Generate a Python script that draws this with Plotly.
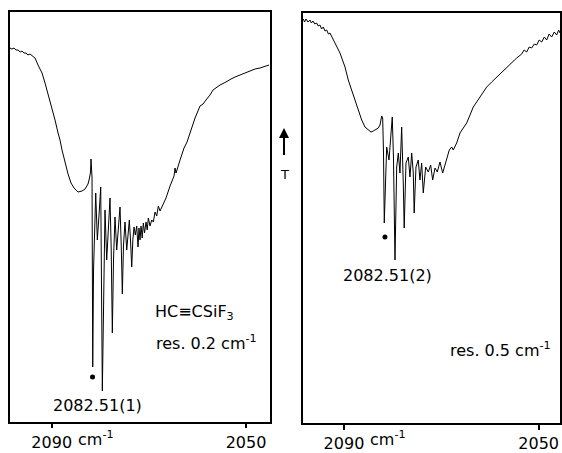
import plotly.graph_objects as go

# ---------------- data ----------------
# Left panel: HC≡CSiF3, resolution 0.2 cm-1  (wavenumber in cm-1, transmittance in arbitrary units)
left_wn = [2098.59, 2098.2, 2097.76, 2097.35, 2096.94, 2096.5, 2096.12, 2095.7, 2095.29, 2094.9,
           2094.47, 2093.85, 2093.44, 2092.82, 2092.00, 2091.38, 2090.97, 2090.35, 2089.94, 2089.32,
           2088.70, 2088.29, 2087.88, 2087.26, 2086.64, 2086.03, 2085.41, 2084.58, 2083.76, 2083.14,
           2082.53, 2082.22, 2082.01, 2081.91, 2081.70, 2081.56, 2081.39, 2080.94, 2080.61, 2080.26,
           2079.91, 2079.58, 2079.33, 2079.03, 2078.68, 2078.35, 2078.00, 2077.75, 2077.52, 2077.28,
           2076.97, 2076.62, 2076.29, 2075.94, 2075.69, 2075.46, 2075.22, 2074.91, 2074.56, 2074.29,
           2074.02, 2073.78, 2073.53, 2073.30, 2073.05, 2072.79, 2072.50, 2072.23, 2072.03, 2071.82,
           2071.61, 2071.37, 2071.14, 2070.89, 2070.58, 2070.34, 2070.11, 2069.76, 2069.41, 2069.08,
           2068.73, 2068.38, 2068.05, 2067.70, 2067.08, 2066.47, 2065.64, 2065.02, 2064.82, 2064.61,
           2064.41, 2063.58, 2062.76, 2062.14, 2061.52, 2060.49, 2059.47, 2058.85, 2058.23, 2057.41,
           2056.79, 2055.96, 2055.35, 2054.52, 2053.91, 2053.08, 2052.26, 2051.23, 2050.20, 2049.17,
           2048.14, 2047.11, 2046.08, 2045.26]
left_T = [374, 373, 374, 372, 372, 370, 371, 369, 369, 367,
          368, 366, 364, 357, 349, 339, 332, 319, 312, 302,
          289, 282, 272, 259, 248, 239, 234, 230, 231, 233,
          238, 244, 250, 263, 244, 55, 152, 229, 182, 207,
          235, 31, 142, 212, 162, 197, 224, 172, 89, 162,
          205, 172, 192, 215, 177, 128, 177, 200, 172, 192,
          202, 182, 155, 182, 195, 187, 196, 175, 194, 182,
          196, 184, 199, 189, 200, 192, 204, 196, 202, 200,
          210, 206, 216, 211, 218, 224, 236, 244, 246, 254,
          249, 262, 274, 280, 289, 304, 316, 318, 322, 327,
          332, 335, 337, 339, 341, 343, 345, 347, 349, 351,
          353, 354, 356, 357]

# Right panel: resolution 0.5 cm-1
right_wn = [2098.36, 2098.1, 2097.81, 2097.4, 2096.99, 2096.7, 2096.37, 2096.0, 2095.61, 2095.3,
            2094.93, 2094.6, 2094.25, 2093.9, 2093.55, 2093.2, 2092.88, 2092.26, 2091.85, 2091.34,
            2090.82, 2090.31, 2089.79, 2089.12, 2088.42, 2087.74, 2087.06, 2086.36, 2085.69, 2085.01,
            2084.45, 2083.98, 2083.43, 2082.95, 2082.60, 2082.40, 2082.25, 2082.05, 2081.88, 2081.72,
            2081.47, 2081.23, 2080.75, 2080.45, 2080.08, 2079.83, 2079.52, 2079.17, 2078.84, 2078.50,
            2078.15, 2077.82, 2077.63, 2077.26, 2076.79, 2076.44, 2076.09, 2075.76, 2075.58, 2075.21,
            2074.74, 2074.39, 2074.04, 2073.71, 2073.22, 2072.68, 2072.19, 2071.78, 2071.30, 2070.83,
            2070.28, 2069.72, 2069.25, 2068.78, 2068.37, 2067.87, 2067.54, 2066.85, 2066.58, 2066.17,
            2065.49, 2064.79, 2064.11, 2063.44, 2062.74, 2062.06, 2061.38, 2060.68, 2059.66, 2058.63,
            2057.60, 2056.57, 2055.55, 2054.52, 2053.49, 2053.0, 2052.47, 2051.95, 2051.44, 2050.9,
            2050.41, 2049.9, 2049.38, 2048.85, 2048.36, 2047.85, 2047.33, 2046.8, 2046.30, 2045.9,
            2045.62]
right_T = [404, 401, 404, 401, 403, 400, 402, 399, 400, 397,
           398, 394, 396, 392, 393, 389, 390, 384, 381, 376,
           370, 363, 356, 343, 333, 323, 313, 303, 296, 293,
           291, 292, 294, 295, 298, 303, 307, 305, 270, 200,
           245, 276, 263, 280, 306, 265, 163, 256, 270, 250,
           296, 240, 195, 260, 266, 246, 270, 250, 210, 256,
           263, 243, 260, 230, 256, 251, 258, 243, 255, 251,
           261, 250, 258, 265, 273, 276, 273, 280, 284, 290,
           295, 300, 308, 316, 321, 326, 332, 336, 341, 346,
           351, 356, 360, 365, 369, 373, 371, 376, 375, 379,
           378, 383, 381, 386, 383, 389, 386, 391, 388, 393,
           390]

# marked line (dot) positions
left_dot_wn, left_dot_T = [2081.60], [45]
right_dot_wn, right_dot_T = [2081.58], [186]

tick_vals = [2090, 2050]
tick_text = ["2090", "2050"]

# ---------------- figure ----------------
W, H = 562, 453
FONT = "DejaVu Sans"


def px_x(x):
    return x / W


def px_y(y):
    return 1 - y / H


fig = go.Figure()
line_style = dict(color="black", width=1)
fig.add_trace(go.Scatter(x=left_wn, y=left_T, mode="lines", line=line_style,
                         xaxis="x", yaxis="y", hoverinfo="skip"))
fig.add_trace(go.Scatter(x=right_wn, y=right_T, mode="lines", line=line_style,
                         xaxis="x2", yaxis="y2", hoverinfo="skip"))
fig.add_trace(go.Scatter(x=left_dot_wn, y=left_dot_T, mode="markers",
                         marker=dict(color="black", size=5), xaxis="x", yaxis="y", hoverinfo="skip"))
fig.add_trace(go.Scatter(x=right_dot_wn, y=right_dot_T, mode="markers",
                         marker=dict(color="black", size=5), xaxis="x2", yaxis="y2", hoverinfo="skip"))

frame = dict(showline=True, linecolor="black", linewidth=1.5, mirror=True,
             showgrid=False, zeroline=False)
xcommon = dict(frame, tickvals=tick_vals, ticktext=tick_text, ticks="outside", ticklen=5,
               tickwidth=1.5, tickcolor="black",
               tickfont=dict(family=FONT, size=16, color="black"))
ycommon = dict(frame, showticklabels=False, ticks="")

fig.update_layout(
    width=W, height=H,
    margin=dict(l=0, r=0, t=0, b=0),
    paper_bgcolor="white", plot_bgcolor="white",
    showlegend=False,
    font=dict(family=FONT, size=16, color="black"),
    xaxis=dict(xcommon, range=[2098.59, 2045.06], domain=[px_x(10), px_x(270)], anchor="y"),
    yaxis=dict(ycommon, range=[0.3, 410], domain=[px_y(421.7), px_y(12)], anchor="x"),
    xaxis2=dict(xcommon, range=[2098.48, 2045.56], domain=[px_x(302.7), px_x(560.3)], anchor="y2"),
    yaxis2=dict(ycommon, range=[-0.3, 410], domain=[px_y(423.3), px_y(13)], anchor="x2"),
)


def label(text, x, y, size=16, xanchor="left"):
    fig.add_annotation(text=text, x=px_x(x), y=px_y(y), xref="paper", yref="paper",
                       xanchor=xanchor, yanchor="middle", showarrow=False,
                       font=dict(family=FONT, size=size, color="black"))


label("HC≡CSiF<sub>3</sub>", 153, 312)
label("res. 0.2 cm<sup>-1</sup>", 154, 342)
label("2082.51(1)", 51, 405)
label("2082.51(2)", 341, 275)
label("res. 0.5 cm<sup>-1</sup>", 448, 349)
label("cm<sup>-1</sup>", 76, 438)
label("cm<sup>-1</sup>", 368, 438)

# upward arrow between the panels, with the "T" label at its tail
fig.add_annotation(x=px_x(284), y=px_y(128), xref="paper", yref="paper", text="T",
                   showarrow=True, ax=0, ay=46, axref="pixel", ayref="pixel",
                   startstandoff=10, arrowhead=2, arrowsize=1, arrowwidth=2,
                   arrowcolor="black", font=dict(family=FONT, size=13, color="black"))

fig.write_html("out.html")
